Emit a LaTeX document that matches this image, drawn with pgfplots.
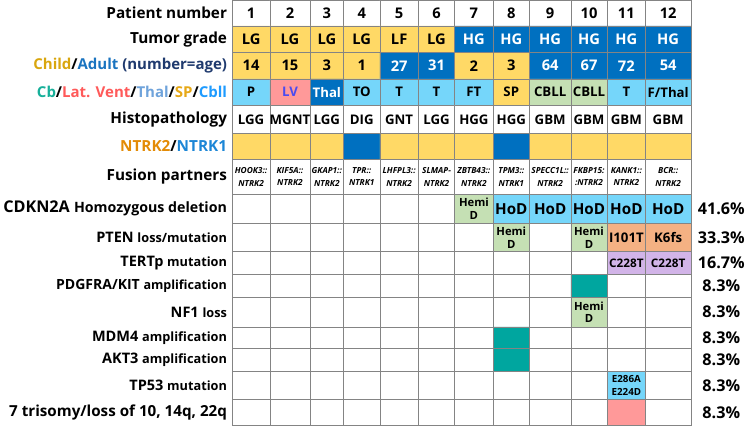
\documentclass[border=0pt]{standalone}
\usepackage{pgfplots}
\pgfplotsset{compat=1.18}
\usepackage{fontspec}
\setmainfont{Open Sans}
\definecolor{ylw}{HTML}{FFD966}
\definecolor{dblue}{HTML}{0070C0}
\definecolor{lblue}{HTML}{75D6FA}
\definecolor{pinkc}{HTML}{FF9999}
\definecolor{grn}{HTML}{C5E0B4}
\definecolor{orng}{HTML}{F4B183}
\definecolor{purp}{HTML}{D2B4E8}
\definecolor{tealc}{HTML}{00A69F}
\definecolor{gridc}{HTML}{848484}
\definecolor{lvtext}{HTML}{4B4BF0}
\definecolor{childc}{HTML}{D9A60E}
\definecolor{adultc}{HTML}{1A74C0}
\definecolor{navyc}{HTML}{1F3A6E}
\definecolor{cbc}{HTML}{17B09A}
\definecolor{latc}{HTML}{FF5A5A}
\definecolor{thalc}{HTML}{6FA3DB}
\definecolor{spc}{HTML}{E6A817}
\definecolor{cbllc}{HTML}{1E9BFF}
\definecolor{ntrktwo}{HTML}{E38B06}
\definecolor{ntrkone}{HTML}{1C86D6}
\newcommand\fs[1]{\fontsize{#1}{#1}\selectfont}
\newcommand\CX[1]{\ifcase#1 228\or 266\or 307\or 341\or 378\or 417\or 454\or 493\or 530\or 572\or 609\or 648\or 694\fi}
\newcommand\RY[1]{\ifcase#1 0\or 26\or 53\or 80\or 107\or 135\or 162\or 197\or 227\or 255\or 279\or 302\or 332\or 354\or 377\or 406\or 432\fi}
\tikzset{
  N/.style={font=\bfseries\fontsize{15}{16}\selectfont, text=black},
  W/.style={N, text=white},
  S/.style={font=\bfseries\fontsize{13.5}{14}\selectfont, text=black},
  F/.style={font=\bfseries\itshape\fontsize{8.5}{12.5}\selectfont, align=center, text=black},
  H/.style={font=\bfseries\fontsize{11.5}{13}\selectfont, align=center, text=black},
  C/.style={font=\bfseries\fontsize{12}{13}\selectfont, text=black},
  T/.style={font=\bfseries\fontsize{10}{14}\selectfont, align=center, text=black},
  L/.style={anchor=east, font=\bfseries\fontsize{15.6}{17}\selectfont, text=black},
  P/.style={font=\bfseries\fontsize{16.5}{17}\selectfont, text=black},
}
% \cell{col}{row}{fill}{style}{text}
\newcommand\cell[5]{%
  \pgfmathtruncatemacro\ca{#1-1}\pgfmathtruncatemacro\ra{#2-1}%
  \edef\xa{\CX{\ca}}\edef\xb{\CX{#1}}\edef\ya{\RY{\ra}}\edef\yb{\RY{#2}}%
  \pgfmathsetmacro\xm{(\xa+\xb)/2}\pgfmathsetmacro\ym{(\ya+\yb)/2}%
  \edef\tmp{\noexpand\addplot[fill=#3,draw=gridc,line width=0.5pt] coordinates {(\xa,\ya) (\xb,\ya) (\xb,\yb) (\xa,\yb) (\xa,\ya)};}\tmp
  \edef\tmp{\noexpand\node[\unexpanded{#4}] at (axis cs:\xm,\ym) {\unexpanded{#5}};}\tmp
}
% \lab{row}{style}{text}
\newcommand\lab[3]{%
  \pgfmathtruncatemacro\ra{#1-1}%
  \edef\ya{\RY{\ra}}\edef\yb{\RY{#1}}\pgfmathsetmacro\ym{(\ya+\yb)/2}%
  \edef\tmp{\noexpand\node[\unexpanded{#2}] at (axis cs:226,\ym) {\unexpanded{#3}};}\tmp
}
\newcommand\pct[2]{%
  \pgfmathtruncatemacro\ra{#1-1}%
  \edef\ya{\RY{\ra}}\edef\yb{\RY{#1}}\pgfmathsetmacro\ym{(\ya+\yb)/2}%
  \edef\tmp{\noexpand\node[P] at (axis cs:725,\ym) {\unexpanded{#2}};}\tmp
}
\begin{document}
\begin{tikzpicture}
\begin{axis}[
  scale only axis, width=466bp, height=432bp,
  xmin=228, xmax=694, ymin=0, ymax=432, y dir=reverse,
  clip=false,
  xtick={266,307,341,378,417,454,493,530,572,609,648},
  ytick={26,53,80,107,135,162,197,227,255,279,302,332,354,377,406},
  xticklabels={}, yticklabels={},
  major tick length=0pt,
  grid=major,
  major grid style={draw=gridc, line width=0.5pt},
  axis line style={draw=gridc, line width=0.6pt},
]
\path (axis cs:0,0) (axis cs:748,433);
% row 1 patient numbers
\cell{1}{1}{white}{N}{1}\cell{2}{1}{white}{N}{2}\cell{3}{1}{white}{N}{3}
\cell{4}{1}{white}{N}{4}\cell{5}{1}{white}{N}{5}\cell{6}{1}{white}{N}{6}
\cell{7}{1}{white}{N}{7}\cell{8}{1}{white}{N}{8}\cell{9}{1}{white}{N}{9}
\cell{10}{1}{white}{N}{10}\cell{11}{1}{white}{N}{11}\cell{12}{1}{white}{N}{12}
% row 2 tumor grade
\cell{1}{2}{ylw}{N}{LG}\cell{2}{2}{ylw}{N}{LG}\cell{3}{2}{ylw}{N}{LG}
\cell{4}{2}{ylw}{N}{LG}\cell{5}{2}{ylw}{N}{LF}\cell{6}{2}{ylw}{N}{LG}
\cell{7}{2}{dblue}{W}{HG}\cell{8}{2}{dblue}{W}{HG}\cell{9}{2}{dblue}{W}{HG}
\cell{10}{2}{dblue}{W}{HG}\cell{11}{2}{dblue}{W}{HG}\cell{12}{2}{dblue}{W}{HG}
% row 3 age
\cell{1}{3}{ylw}{N}{14}\cell{2}{3}{ylw}{N}{15}\cell{3}{3}{ylw}{N}{3}
\cell{4}{3}{ylw}{N}{1}\cell{5}{3}{dblue}{W}{27}\cell{6}{3}{dblue}{W}{31}
\cell{7}{3}{ylw}{N}{2}\cell{8}{3}{ylw}{N}{3}\cell{9}{3}{dblue}{W}{64}
\cell{10}{3}{dblue}{W}{67}\cell{11}{3}{dblue}{W}{72}\cell{12}{3}{dblue}{W}{54}
% row 4 location
\cell{1}{4}{lblue}{S}{P}\cell{2}{4}{pinkc}{S,text=lvtext}{LV}\cell{3}{4}{dblue}{S,text=white}{Thal}
\cell{4}{4}{lblue}{S}{TO}\cell{5}{4}{lblue}{S}{T}\cell{6}{4}{lblue}{S}{T}
\cell{7}{4}{lblue}{S}{FT}\cell{8}{4}{ylw}{S}{SP}\cell{9}{4}{grn}{S}{CBLL}
\cell{10}{4}{grn}{S}{CBLL}\cell{11}{4}{lblue}{S}{T}\cell{12}{4}{lblue}{S}{F/Thal}
% row 5 histopathology
\cell{1}{5}{white}{S}{LGG}\cell{2}{5}{white}{S}{MGNT}\cell{3}{5}{white}{S}{LGG}
\cell{4}{5}{white}{S}{DIG}\cell{5}{5}{white}{S}{GNT}\cell{6}{5}{white}{S}{LGG}
\cell{7}{5}{white}{S}{HGG}\cell{8}{5}{white}{S}{HGG}\cell{9}{5}{white}{S}{GBM}
\cell{10}{5}{white}{S}{GBM}\cell{11}{5}{white}{S}{GBM}\cell{12}{5}{white}{S}{GBM}
% row 6 NTRK
\cell{1}{6}{ylw}{S}{}\cell{2}{6}{ylw}{S}{}\cell{3}{6}{ylw}{S}{}
\cell{4}{6}{dblue}{S}{}\cell{5}{6}{ylw}{S}{}\cell{6}{6}{ylw}{S}{}
\cell{7}{6}{ylw}{S}{}\cell{8}{6}{dblue}{S}{}\cell{9}{6}{ylw}{S}{}
\cell{10}{6}{ylw}{S}{}\cell{11}{6}{ylw}{S}{}\cell{12}{6}{ylw}{S}{}
% row 7 fusion partners
\cell{1}{7}{white}{F}{HOOK3::\\NTRK2}\cell{2}{7}{white}{F}{KIF5A::\\NTRK2}\cell{3}{7}{white}{F}{GKAP1::\\NTRK2}
\cell{4}{7}{white}{F}{TPR::\\NTRK1}\cell{5}{7}{white}{F}{LHFPL3::\\NTRK2}\cell{6}{7}{white}{F}{SLMAP-\\NTRK2}
\cell{7}{7}{white}{F}{ZBTB43::\\NTRK2}\cell{8}{7}{white}{F}{TPM3::\\NTRK1}\cell{9}{7}{white}{F}{SPECC1L::\\NTRK2}
\cell{10}{7}{white}{F}{FKBP15:\\:NTRK2}\cell{11}{7}{white}{F}{KANK1::\\NTRK2}\cell{12}{7}{white}{F}{BCR::\\NTRK2}
% row 8 CDKN2A
\cell{7}{8}{grn}{H}{Hemi\\D}\cell{8}{8}{lblue}{N,font=\bfseries\fontsize{15.5}{16}\selectfont}{HoD}
\cell{9}{8}{lblue}{N,font=\bfseries\fontsize{15.5}{16}\selectfont}{HoD}\cell{10}{8}{lblue}{N,font=\bfseries\fontsize{15.5}{16}\selectfont}{HoD}
\cell{11}{8}{lblue}{N,font=\bfseries\fontsize{15.5}{16}\selectfont}{HoD}\cell{12}{8}{lblue}{N,font=\bfseries\fontsize{15.5}{16}\selectfont}{HoD}
% row 9 PTEN
\cell{8}{9}{grn}{H}{Hemi\\D}\cell{10}{9}{grn}{H}{Hemi\\D}
\cell{11}{9}{orng}{S}{I101T}\cell{12}{9}{orng}{S}{K6fs}
% row 10 TERTp
\cell{11}{10}{purp}{C}{C228T}\cell{12}{10}{purp}{C}{C228T}
% row 11 PDGFRA
\cell{10}{11}{tealc}{S}{}
% row 12 NF1
\cell{10}{12}{grn}{H}{Hemi\\D}
% row 13 MDM4, row 14 AKT3
\cell{8}{13}{tealc}{S}{}\cell{8}{14}{tealc}{S}{}
% row 15 TP53
\cell{11}{15}{lblue}{T}{E286A\\E224D}
% row 16 trisomy
\cell{11}{16}{pinkc}{S}{}
% left labels
\lab{1}{L}{Patient number}
\lab{2}{L}{Tumor grade}
\lab{3}{L,font=\bfseries\fontsize{15.3}{16}\selectfont}{\textcolor{childc}{Child}/\textcolor{adultc}{Adult} \textcolor{navyc}{(number=age)}}
\lab{4}{L,font=\bfseries\fontsize{15.3}{16}\selectfont}{\textcolor{cbc}{Cb}/\textcolor{latc}{Lat. Vent}/\textcolor{thalc}{Thal}/\textcolor{spc}{SP}/\textcolor{cbllc}{Cbll}}
\lab{5}{L}{Histopathology}
\lab{6}{L}{\textcolor{ntrktwo}{NTRK2}/\textcolor{ntrkone}{NTRK1}}
\lab{7}{L}{Fusion partners}
\lab{8}{L}{\fs{16.5}CDKN2A \fs{14.5}Homozygous deletion}
\lab{9}{L}{\fs{14.8}PTEN \fs{13}loss/mutation}
\lab{10}{L}{\fs{14.8}TERTp \fs{13}mutation}
\lab{11}{L}{\fs{14.3}PDGFRA/KIT \fs{12.8}amplification}
\lab{12}{L}{\fs{14.8}NF1 \fs{13}loss}
\lab{13}{L}{\fs{14.8}MDM4 \fs{13}amplification}
\lab{14}{L}{\fs{14.8}AKT3 \fs{13}amplification}
\lab{15}{L}{\fs{14.8}TP53 \fs{13}mutation}
\lab{16}{L}{\fs{15.5}7 trisomy/loss of 10, 14q, 22q}
% percentages
\pct{8}{41.6\%}\pct{9}{33.3\%}\pct{10}{16.7\%}\pct{11}{8.3\%}\pct{12}{8.3\%}
\pct{13}{8.3\%}\pct{14}{8.3\%}\pct{15}{8.3\%}\pct{16}{8.3\%}
\end{axis}
\end{tikzpicture}
\end{document}
